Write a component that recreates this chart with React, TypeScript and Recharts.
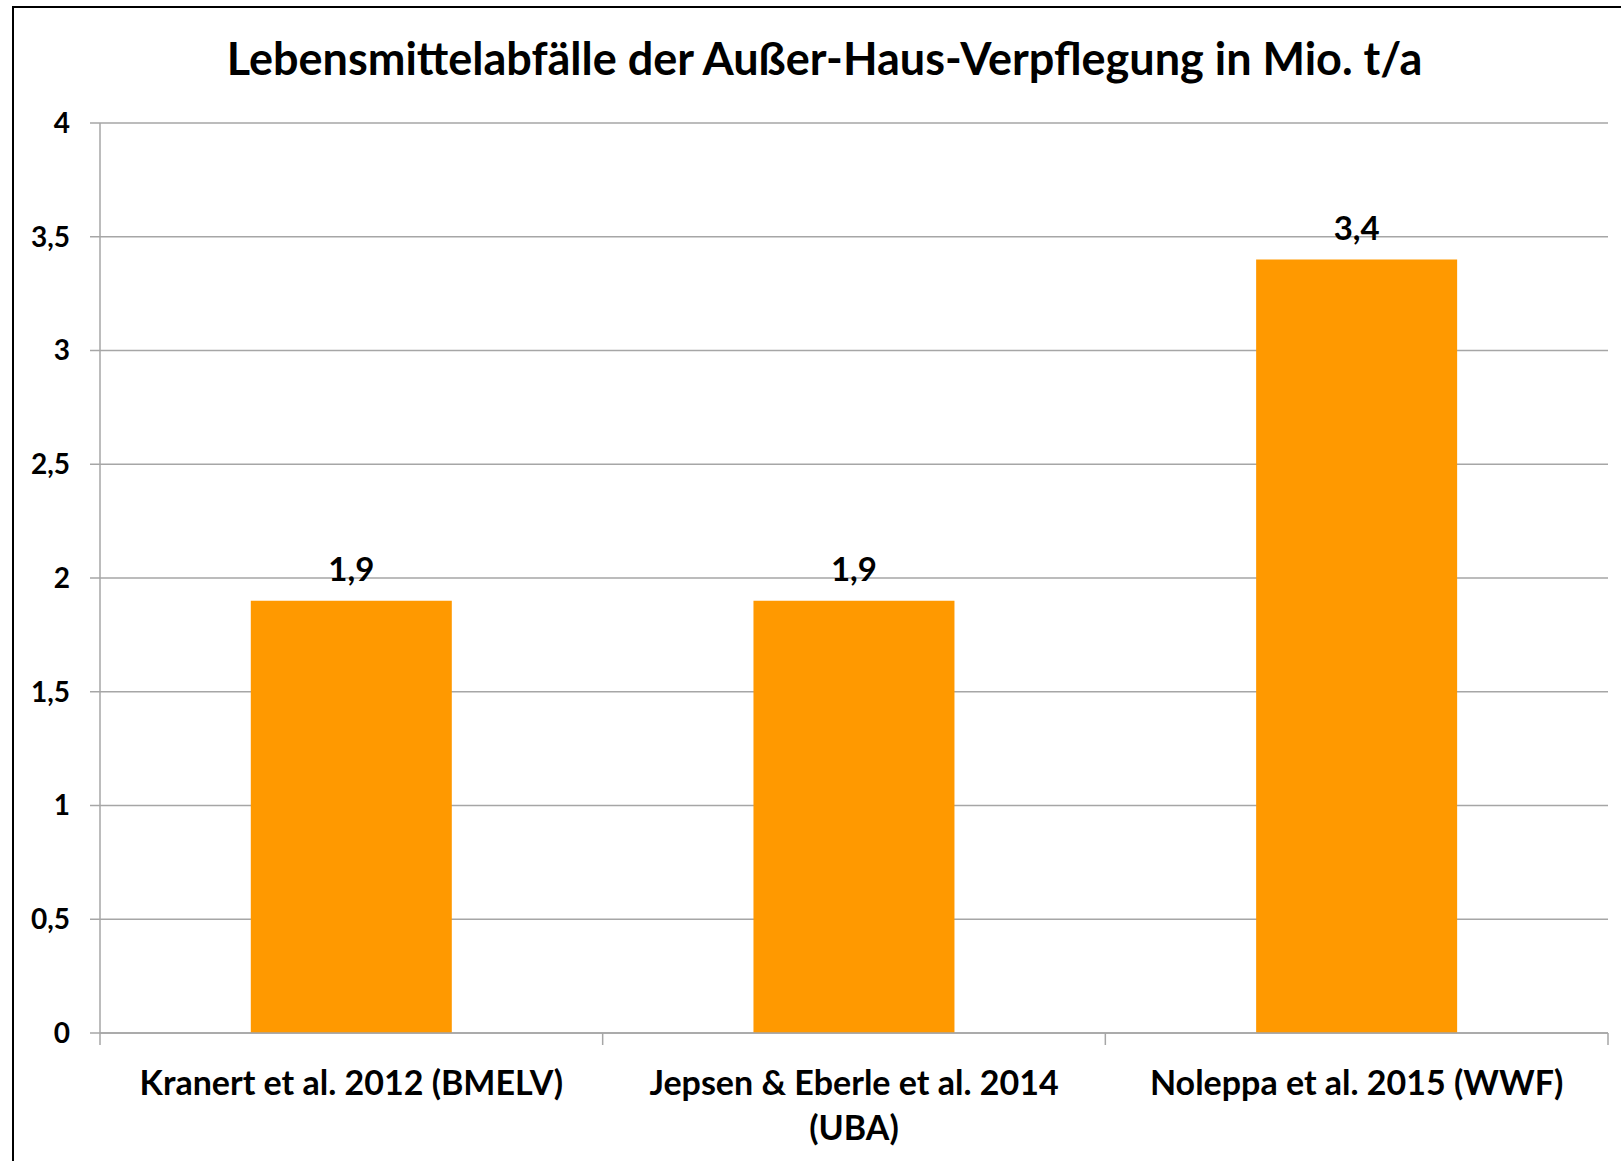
import { Bar, BarChart, CartesianGrid, LabelList, XAxis, YAxis } from "recharts";

const studies = ["Kranert et al. 2012 (BMELV)", "Jepsen & Eberle et al. 2014 (UBA)", "Noleppa et al. 2015 (WWF)"];
const labelLines = [["Kranert et al. 2012 (BMELV)"], ["Jepsen & Eberle et al. 2014", "(UBA)"], ["Noleppa et al. 2015 (WWF)"]];
const tonnes = [1.9, 1.9, 3.4];
const yTicks = [0, 0.5, 1, 1.5, 2, 2.5, 3, 3.5, 4];

const rows = studies.map((s, i) => ({ name: s, value: tonnes[i], idx: i }));

const W = 1621;
const H = 1161;
const PLOT_LEFT = 100;
const PLOT_RIGHT = 1608;
const BAND = (PLOT_RIGHT - PLOT_LEFT) / studies.length;
const FONT = "Lato, 'Open Sans', sans-serif";
const GRAY = "#a6a6a6";

const comma = (v: number) => String(v).replace(".", ",");

function CatTick(props: any) {
  const { x, y, index } = props;
  const lines = labelLines[index] ?? [];
  const left = x - BAND / 2;
  return (
    <g>
      <line x1={left} x2={left} y1={y} y2={y + 12} stroke={GRAY} strokeWidth={1.5} />
      {index === studies.length - 1 && (
        <line x1={x + BAND / 2} x2={x + BAND / 2} y1={y} y2={y + 12} stroke={GRAY} strokeWidth={1.5} />
      )}
      {lines.map((l, i) => (
        <text
          key={i}
          x={x}
          y={y + 62 + i * 45}
          textAnchor="middle"
          fontFamily={FONT}
          fontWeight={700}
          fontSize={34}
          fill="#000"
        >
          {l}
        </text>
      ))}
    </g>
  );
}

export default function App() {
  return (
    <div style={{ position: "relative", width: W, height: H, overflow: "hidden", background: "#fff" }}>
      <style>{`body{margin:0}`}</style>
      <div
        style={{
          position: "absolute",
          left: 12,
          top: 6,
          width: 1700,
          height: 1300,
          border: "2.5px solid #000",
        }}
      />
      <div
        style={{
          position: "absolute",
          left: 13,
          width: 1623,
          top: 31,
          textAlign: "center",
          fontFamily: FONT,
          fontWeight: 700,
          fontSize: 45,
          lineHeight: "54px",
          color: "#000",
        }}
      >
        Lebensmittelabfälle der Außer-Haus-Verpflegung in Mio. t/a
      </div>
      <div style={{ position: "absolute", left: 0, top: 0 }}>
        <BarChart
          width={W}
          height={H}
          data={rows}
          margin={{ top: 123, right: W - PLOT_RIGHT, left: 12, bottom: 48 }}
          barCategoryGap="30%"
        >
          <CartesianGrid vertical={false} stroke={GRAY} strokeWidth={1.5} />
          <XAxis
            dataKey="name"
            height={80}
            interval={0}
            tickLine={false}
            tickSize={0}
            tickMargin={0}
            axisLine={{ stroke: GRAY, strokeWidth: 1.5 }}
            tick={<CatTick />}
          />
          <YAxis
            width={88}
            domain={[0, 4]}
            ticks={yTicks}
            interval={0}
            tickSize={10}
            tickMargin={20}
            tickFormatter={comma}
            axisLine={{ stroke: GRAY, strokeWidth: 1.5 }}
            tickLine={{ stroke: GRAY, strokeWidth: 1.5 }}
            tick={{ fill: "#000", fontSize: 28, fontWeight: 700, fontFamily: FONT }}
          />
          <Bar dataKey="value" fill="#ff9900" isAnimationActive={false}>
            <LabelList
              dataKey="value"
              position="top"
              offset={20}
              formatter={(v: any) => comma(v)}
              style={{ fill: "#000", fontSize: 33, fontWeight: 700, fontFamily: FONT }}
            />
          </Bar>
        </BarChart>
      </div>
    </div>
  );
}
